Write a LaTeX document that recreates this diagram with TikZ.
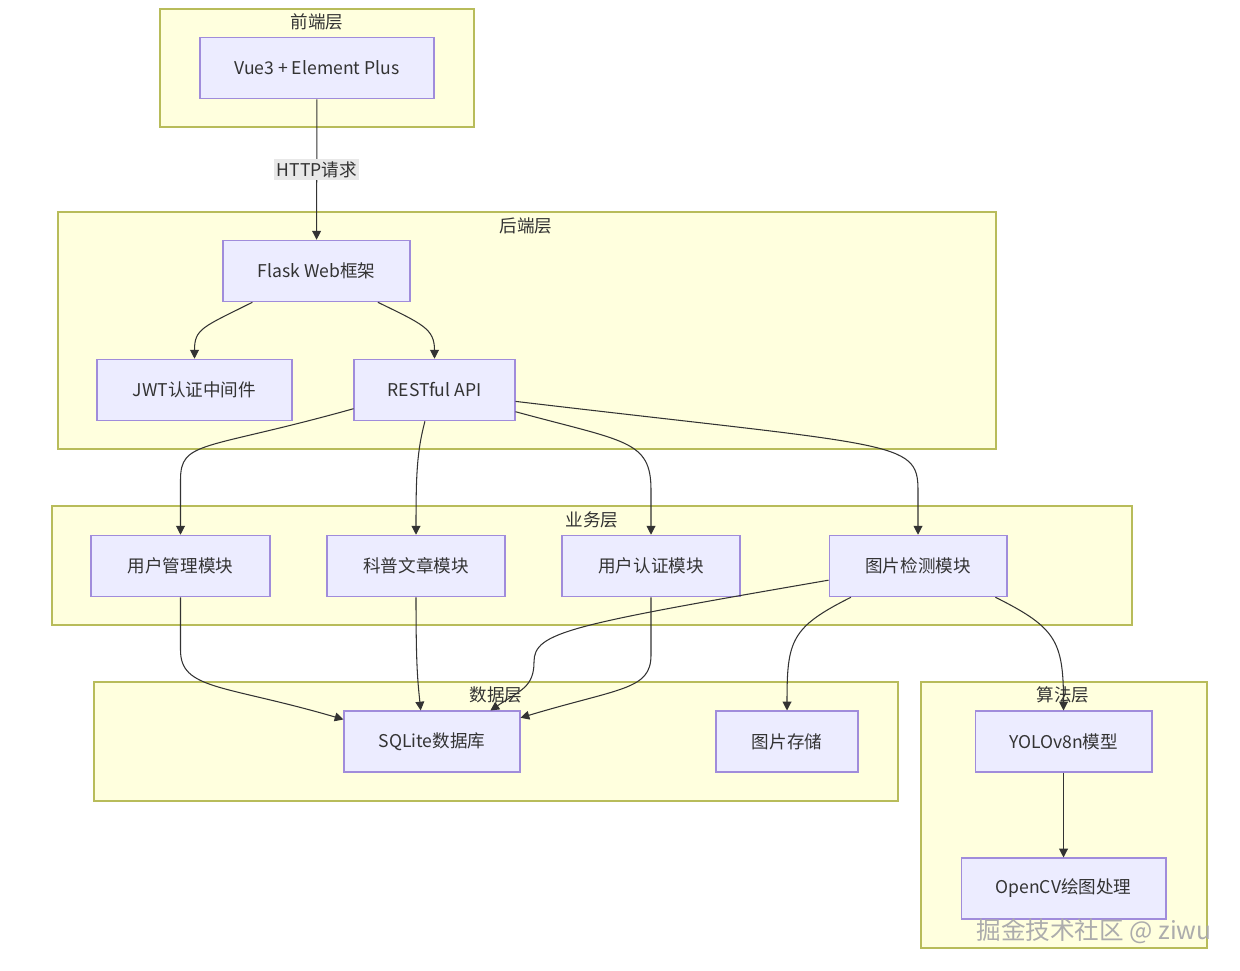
\documentclass[tikz,border=0pt]{standalone}
\usepackage{fontspec}
\setmainfont{Noto Sans CJK SC}
\usetikzlibrary{arrows.meta}
\definecolor{layerfill}{HTML}{FFFFDE}
\definecolor{layerline}{HTML}{B8BC5A}
\definecolor{nodefill}{HTML}{ECECFF}
\definecolor{nodeline}{HTML}{A08CDB}
\definecolor{txt}{HTML}{333333}
\definecolor{edge}{HTML}{333333}
\definecolor{lblfill}{HTML}{E8E8E8}

\begin{document}
\begin{tikzpicture}[x=0.02cm,y=-0.02cm,
        every node/.append style={font=\fontsize{10}{12}\selectfont,text=txt},
        box/.style={draw=nodeline,fill=nodefill,line width=0.6pt,minimum height=1.23cm,inner sep=0pt},
        layer/.style={draw=layerline,fill=layerfill,line width=0.6pt},
        arr/.style={draw=edge,line width=0.6pt,-{Triangle[length=5pt,width=5pt]}},
        lbl/.style={fill=lblfill,inner sep=1.5pt}]
        \useasboundingbox (0,0) rectangle (1240,970);
        % layers
        \draw[layer] (160,9) rectangle (474,127);
        \draw[layer] (58,212) rectangle (996,449);
        \draw[layer] (52,506) rectangle (1132,625);
        \draw[layer] (94,682) rectangle (898,801);
        \draw[layer] (921,682) rectangle (1207,948);
        \node (front) at (317,22) {前端层};
        \node (back) at (526,226) {后端层};
        \node (biz) at (592,520) {业务层};
        \node (data) at (496,695) {数据层};
        \node (algo) at (1063,695) {算法层};
        % nodes
        \node[box,minimum width=4.68cm] (vue) at (317,68) {Vue3 + Element Plus};
        \node[box,minimum width=3.74cm] (flask) at (316.5,271) {Flask Web框架};
        \node[box,minimum width=3.9cm] (jwt) at (194.5,390) {JWT认证中间件};
        \node[box,minimum width=3.22cm] (rest) at (434.5,390) {RESTful API};
        \node[box,minimum width=3.58cm] (umod) at (180.5,566) {用户管理模块};
        \node[box,minimum width=3.56cm] (art) at (416,566) {科普文章模块};
        \node[box,minimum width=3.56cm] (auth) at (651,566) {用户认证模块};
        \node[box,minimum width=3.56cm] (det) at (918,566) {图片检测模块};
        \node[box,minimum width=3.52cm,minimum height=1.22cm] (db) at (432,741.5) {SQLite数据库};
        \node[box,minimum width=2.84cm,minimum height=1.22cm] (img) at (787,741.5) {图片存储};
        \node[box,minimum width=3.54cm,minimum height=1.22cm] (yolo) at (1063.5,741.5) {YOLOv8n模型};
        \node[box,minimum width=4.1cm,minimum height=1.22cm] (cv) at (1063.5,888.5) {OpenCV绘图处理};
        % edges
        \coordinate (bend) at (534,662);
        \draw[arr] (vue) -- node[lbl] (http) {HTTP请求} (flask);
        \draw[arr] (flask.206) .. controls +(-50,25) and +(0,-30) .. (jwt.north);
        \draw[arr] (flask.333) .. controls +(45,22) and +(0,-30) .. (rest.north);
        \draw[arr] (rest.193) .. controls +(-150,42) and +(0,-40) .. (umod.north |- 0,480) -- (umod.north);
        \draw[arr] (rest.253) .. controls +(-8,30) and +(0,-60) .. (art.north);
        \draw[arr] (rest.345) .. controls +(110,30) and +(0,-50) .. (auth.north |- 0,490) -- (auth.north);
        \draw[arr] (rest.352) .. controls +(380,45) and +(0,-50) .. (det.north |- 0,490) -- (det.north);
        \draw[arr] (umod.south) -- (umod.south |- 0,650) .. controls +(0,40) and +(-120,-35) .. (db.166);
        \draw[arr] (art.south) .. controls +(0,70) and +(-3,-30) .. (db.110);
        \draw[arr] (auth.south) -- (auth.south |- 0,655) .. controls +(0,35) and +(100,-30) .. (db.15);
        \draw[arr] (det.189) .. controls +(-260,45) and +(0,-30) .. (bend) .. controls +(0,25) and +(30,-20) .. (db.28);
        \draw[arr] (det.205) .. controls +(-60,30) and +(0,-70) .. (img.north);
        \draw[arr] (det.338) .. controls +(60,30) and +(0,-70) .. (yolo.north);
        \draw[arr] (yolo) -- (cv);
        % watermark
        \node[font=\fontsize{14}{16}\selectfont,text=gray!65] (mark) at (1094,931) {掘金技术社区 @ ziwu};
\end{tikzpicture}
\end{document}
